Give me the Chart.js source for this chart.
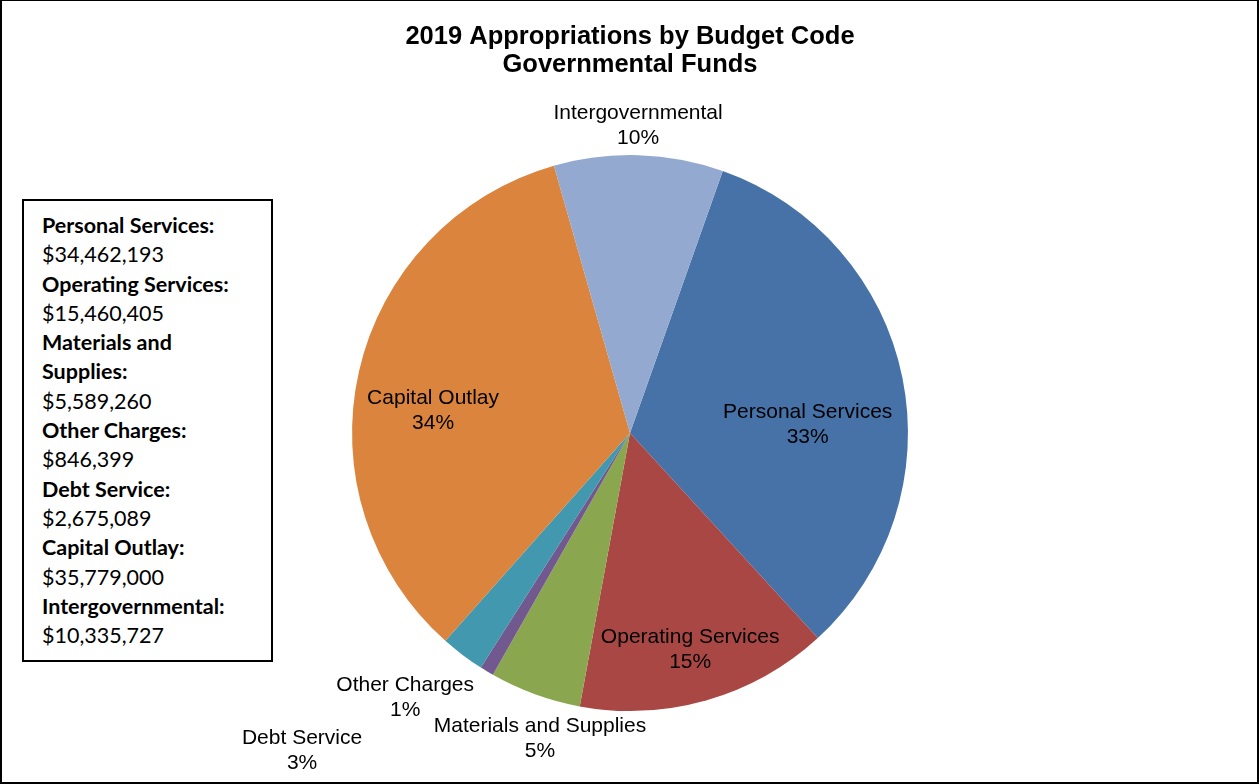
<!DOCTYPE html>
<html>
<head>
<meta charset="utf-8">
<script src="https://cdn.jsdelivr.net/npm/chart.js@4/dist/chart.umd.min.js"></script>
<style>
  html, body { margin: 0; padding: 0; background: #fff; }
  #wrap { position: relative; width: 1259px; height: 784px; overflow: hidden; }
  #chart { position: absolute; left: 0; top: 0; }
  #frame { position: absolute; left: 0; top: 0; width: 1259px; height: 784px;
           box-sizing: border-box; border: 2px solid #000; border-top-width: 1px; pointer-events: none; }
  #amounts { position: absolute; left: 22px; top: 199px; width: 251px; height: 463px;
             box-sizing: border-box; border: 2px solid #000; background: #fff;
             padding: 10px 0 0 18px; font-family: Lato, 'Open Sans', sans-serif; font-size: 21.5px;
             line-height: 29.3px; color: #000; }
  #amounts b { font-weight: 700; }
</style>
</head>
<body>
<div id="wrap">
  <canvas id="chart" width="1259" height="784"></canvas>
  <div id="amounts"></div>
  <div id="frame"></div>
</div>
<script>
// budget codes, in the order the pie is drawn (clockwise)
const codes = ['Personal Services', 'Operating Services', 'Materials and Supplies',
               'Other Charges', 'Debt Service', 'Capital Outlay', 'Intergovernmental'];
const amounts = [34462193, 15460405, 5589260, 846399, 2675089, 35779000, 10335727];
// how each code is written in the left-hand box
const boxNames = ['Personal Services:', 'Operating Services:', 'Materials and<br>Supplies:',
                  'Other Charges:', 'Debt Service:', 'Capital Outlay:', 'Intergovernmental:'];
const sliceColors = ['#4672A8', '#A94744', '#8AA64F', '#71588F', '#4198AF', '#DB843D', '#93A9CF'];

// where each label sits: angle (deg clockwise from top) and distance as share of the radius
const labelSpots = [[87.4, 0.64], [164.5, 0.81], [196.4, 1.147], [220.4, 1.248],
                    [225.9, 1.643], [276.4, 0.713], [1.5, 1.105]];

// the box of amounts on the left
const box = document.getElementById('amounts');
box.innerHTML = codes.map(function(c, i) {
    return '<b>' + boxNames[i] + '</b><br>$' + amounts[i].toLocaleString('en-US');
}).join('<br>');

const total = amounts.reduce(function(a, b) { return a + b; }, 0);

// plugin that writes "name / pct%" near each slice
const sliceLabels = {
    id: 'sliceLabels',
    afterDatasetsDraw(chart) {
        const ctx = chart.ctx;
        const arcs = chart.getDatasetMeta(0).data;
        ctx.save();
        ctx.font = "21px 'Liberation Sans', Arial, sans-serif";
        ctx.fillStyle = '#000';
        ctx.textAlign = 'center';
        ctx.textBaseline = 'middle';
        arcs.forEach(function(arc, i) {
            const a = labelSpots[i][0] * Math.PI / 180;
            const d = arc.outerRadius * labelSpots[i][1];
            const x = arc.x + Math.sin(a) * d;
            const y = arc.y - Math.cos(a) * d;
            const pct = Math.round(amounts[i] / total * 100) + '%';
            ctx.fillText(codes[i], x, y - 12.5);
            ctx.fillText(pct, x, y + 12.5);
        });
        ctx.restore();
    }
};

new Chart(document.getElementById('chart'), {
    type: 'pie',
    data: {
        labels: codes,
        datasets: [{
            data: amounts,
            backgroundColor: sliceColors,
            borderWidth: 0
        }]
    },
    options: {
        responsive: false,
        animation: false,
        rotation: 19.5,
        layout: { padding: { left: 352, right: 351, top: 0, bottom: 73 } },
        plugins: {
            legend: { display: false },
            tooltip: { enabled: false },
            title: {
                display: true,
                text: ['2019 Appropriations by Budget Code', 'Governmental Funds'],
                color: '#000',
                font: { family: "'Liberation Sans', Arial, sans-serif", size: 25.5, weight: 'bold', lineHeight: 1.1 },
                padding: { top: 23, bottom: 76 }
            }
        }
    },
    plugins: [sliceLabels]
});
</script>
</body>
</html>
